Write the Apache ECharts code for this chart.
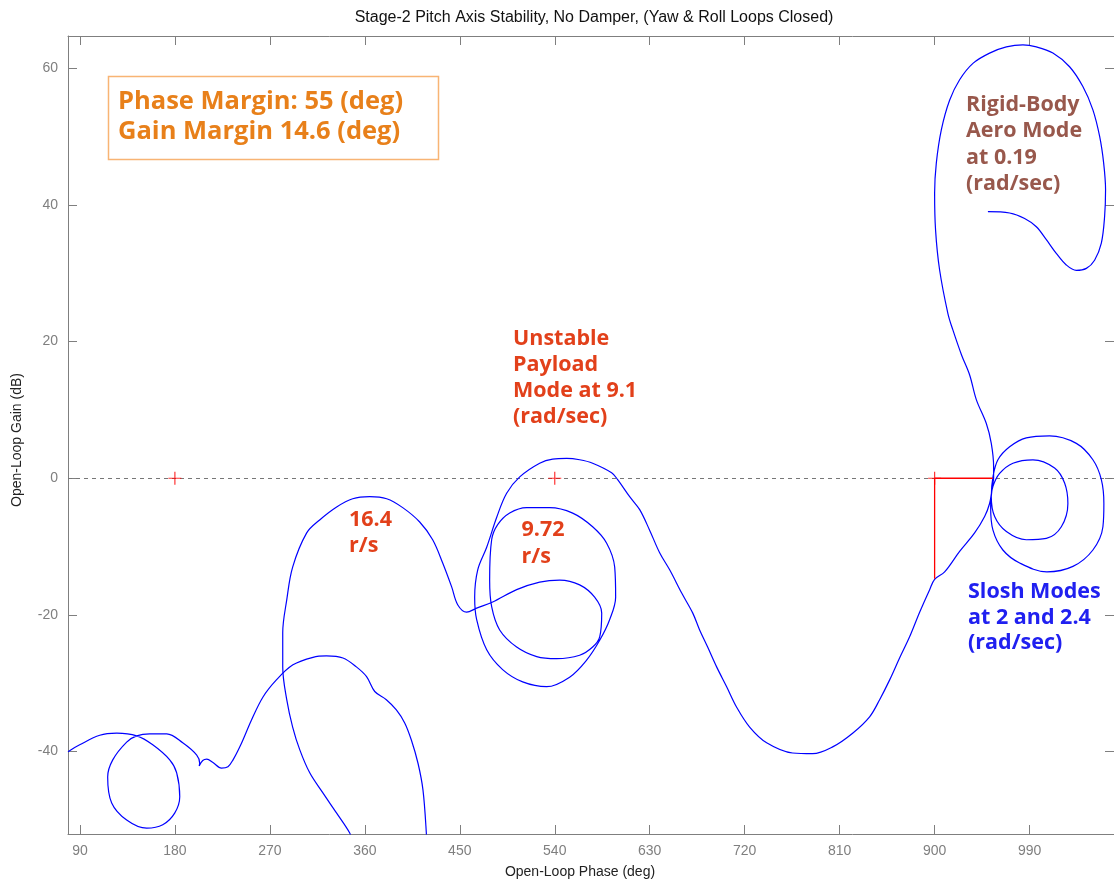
<!DOCTYPE html>
<html><head><meta charset="utf-8">
<script src="https://cdn.jsdelivr.net/npm/echarts@6/dist/echarts.min.js"></script>
<style>html,body{margin:0;padding:0;background:#fff}#c{width:1114px;height:884px}</style>
</head><body><div id="c"></div>
<script>
// ---------------- data (phase deg, gain dB) ----------------
const phaseTicks = [90,180,270,360,450,540,630,720,810,900,990];
const gainTicks = [-40,-20,0,20,40,60];

const rigidBodyLoop = [[950.5,39.0],[971.1,38.8],[985.3,38.0],[996.4,36.8],[1005.9,34.9],[1015.3,32.9],[1024.8,31.2],[1034.3,30.4],[1043.8,30.7],[1051.6,31.9],[1058,34.4],[1061.1,38.3],[1062,42.2],[1060.2,46.1],[1056.4,50.0],[1050,53.9],[1040.5,57.3],[1027.9,60.2],[1012.1,62.2],[996.4,63.1],[983.7,63.4],[968,63.1],[952.1,62.2],[936.3,60.7],[923.7,58.3],[914.2,55.3],[906.4,51.0],[901.6,46.1],[900,41.7],[900.9,36.3],[904.7,30.5],[912.6,24.1],[917.3,21.7],[925.6,18.0],[933.2,15.1],[939.5,11.5],[949,8.0],[953.7,5.1],[955.9,1.7],[955.9,0.0]];
const sloshLoops = [[954.7,-1.2],[953.1,-4.2],[955.3,-7.6],[964.7,-10.5],[980.6,-12.4],[1006.4,-13.7],[1031.1,-12.9],[1050,-10.5],[1059.5,-7.1],[1060.4,-3.7],[1058,-0.2],[1050,2.7],[1034.3,5.1],[1009,6.2],[986.9,5.9],[971.1,4.6],[960,2.7],[955.3,0.2],[953.7,-2.7],[956.9,-5.6],[968,-7.8],[986.9,-9.0],[1005.9,-8.8],[1020.1,-7.1],[1026.3,-3.7],[1023.2,-0.7],[1013.7,1.5],[993.2,2.7],[974.2,2.2],[961.6,0.7],[955.3,-1.2],[952.1,-3.7],[947.4,-5.6],[937.9,-8.0],[923.7,-10.7],[909.5,-13.7],[900,-14.8],[895.3,-16.3]];
const lowDip = [[885.8,-19.6],[876.3,-23.2],[866.8,-26.3],[857.4,-29.5],[847.9,-32.4],[838.4,-34.9],[822.3,-37.3],[803.4,-39.3],[784.4,-40.3],[765.4,-40.2],[740.8,-38.7],[724.7,-36.4],[712.4,-33.5],[702.9,-30.5],[693.4,-27.6],[684.9,-24.7],[677.3,-22.2],[670.7,-19.7],[660.3,-16.8],[648.9,-13.4],[639.4,-10.9],[629.9,-7.6],[620.5,-4.6],[611,-2.7],[599.6,-0.2],[593.9,0.8],[575.9,2.2],[563.6,2.7],[551.3,2.9],[538,2.8]];
const payloadLoops = [[525.7,2.2],[506.8,0.2],[494.4,-2.2],[485,-5.7],[475.5,-10.1],[467,-13.4],[464.1,-17.4],[466,-20.7],[475.5,-25.1],[490.6,-28.0],[509.6,-29.8],[532.3,-30.5],[554.1,-29.1],[570.2,-26.6],[582.6,-23.7],[592,-20.7],[597.7,-17.4],[596.8,-13.0],[589.2,-9.5],[575.9,-7.1],[557,-5.1],[535.2,-4.3],[513.4,-4.3],[497.3,-5.1],[485.9,-6.8],[480.2,-9.0],[478.3,-14.9],[480.2,-18.8],[487.8,-22.2],[503.9,-24.7],[522.9,-26.1],[541.8,-26.4],[563.6,-25.9],[575.9,-24.7],[582.6,-23.2],[584.5,-19.7],[577.8,-17.4],[563.6,-15.6],[544.7,-14.9],[525.7,-15.2],[503.9,-16.3],[481.2,-18.1],[466,-19.0],[456.5,-19.6]];
const hump164 = [[448,-18.5],[442.3,-15.9],[433.8,-12.4],[424.3,-9.0],[412,-6.4],[395.9,-4.3],[380.7,-3.0],[364.6,-2.7],[348.5,-3.0],[333.3,-4.2],[317.2,-6.1],[304.9,-8.0],[291.6,-13.0],[286,-17.8],[282.2,-22.6],[282.2,-27.6],[286,-32.4],[291.6,-36.4],[298.3,-39.7],[307.8,-43.1],[320.1,-46.0],[333.3,-49.0],[345.7,-51.9],[346.6,-52.6]];
const lowFreqTail = [[78.7,-40.0],[89.8,-39.0],[108.8,-37.6],[124.9,-37.3],[143.8,-37.7],[159,-39.0],[175.1,-41.2],[181.7,-43.1],[184.6,-46.6],[179.8,-49.0],[168.5,-50.7],[153.3,-51.2],[134.3,-50.0],[120.1,-47.5],[116.3,-43.7],[121.1,-41.2],[134.3,-38.6],[143.8,-37.7],[156.1,-37.4],[172.3,-37.4],[187.4,-38.7],[200.7,-40.5],[203.5,-41.7],[203,-42.1],[206.4,-41.3],[210.2,-41.1],[216.1,-41.6],[224.1,-42.4],[230.3,-42.2],[235.1,-41.2],[243,-38.8],[252.5,-35.4],[263.5,-32.0],[276.2,-29.5],[291.9,-27.3],[310.9,-26.2],[323.6,-26.0],[339.3,-26.3],[352,-27.6],[361.5,-29.0],[369.4,-31.2],[380.4,-32.4],[389.9,-33.9],[397.8,-35.8],[404.1,-38.3],[410.4,-41.7],[415.1,-45.6],[418.3,-51.9],[418.4,-52.6]];
const criticalPoints = [[180,0],[540,0],[900,0]];
const gainMarginLine = [[900,0],[900,-14.7]];
const phaseMarginLine = [[900,0],[955,0]];

const mainCurve = [].concat(rigidBodyLoop, sloshLoops, lowDip, payloadLoops, hump164);

// ---------------- chart ----------------
const chart = echarts.init(document.getElementById('c'), null, {renderer:'canvas'});
const AX = '#7f7f7f';
const FONT = '"Liberation Sans", Arial, sans-serif';
const ANN = '"Open Sans", "Noto Sans", sans-serif';

function textLines(lines, x, y0, lh, color, size) {
  return lines.map((t, i) => ({
    type: 'text', x: x, y: y0 + i * lh, z: 100,
    style: { text: t, fill: color, font: 'bold ' + size + 'px ' + ANN, textVerticalAlign: 'middle', verticalAlign: 'middle' }
  }));
}

const xAxisBase = {
  type: 'value', min: 78.7, max: 1070,
  axisLine: { show: true, onZero: false, lineStyle: { color: AX, width: 1 } },
  axisTick: { show: true, inside: true, length: 9, customValues: phaseTicks, lineStyle: { color: AX } },
  splitLine: { show: false }
};
const yAxisBase = {
  type: 'value', min: -52.05, max: 64.7,
  axisLine: { show: true, onZero: false, lineStyle: { color: AX, width: 1 } },
  axisTick: { show: true, inside: true, length: 9, customValues: gainTicks, lineStyle: { color: AX } },
  splitLine: { show: false }
};

chart.setOption({
  animation: false,
  backgroundColor: '#fff',
  grid: { left: 68, right: 0, top: 36, bottom: 50, containLabel: false, outerBoundsMode: 'none' },
  xAxis: [
    Object.assign({}, xAxisBase, {
      position: 'bottom',
      axisLabel: { show: true, customValues: phaseTicks, color: AX, fontFamily: FONT, fontSize: 14, margin: 10 }
    }),
    Object.assign({}, xAxisBase, { position: 'top', axisLabel: { show: false } })
  ],
  yAxis: [
    Object.assign({}, yAxisBase, {
      position: 'left',
      axisLabel: { show: true, customValues: gainTicks, color: AX, fontFamily: FONT, fontSize: 14, margin: 10 }
    }),
    Object.assign({}, yAxisBase, { position: 'right', axisLabel: { show: false } })
  ],
  series: [
    {
      type: 'line', data: mainCurve, showSymbol: false, symbol: 'none', smooth: 0.35,
      lineStyle: { color: '#0000ff', width: 1.2 }, clip: true, z: 5,
      markLine: {
        silent: true, symbol: ['none', 'none'], label: { show: false },
        lineStyle: { color: '#777', type: [4, 4], width: 1 },
        data: [{ yAxis: 0 }]
      }
    },
    {
      type: 'line', data: lowFreqTail, showSymbol: false, symbol: 'none', smooth: 0.35,
      lineStyle: { color: '#0000ff', width: 1.2 }, clip: true, z: 5
    },
    {
      type: 'line', data: gainMarginLine, showSymbol: false, symbol: 'none',
      lineStyle: { color: '#ff0000', width: 1.3 }, z: 6
    },
    {
      type: 'line', data: phaseMarginLine, showSymbol: false, symbol: 'none',
      lineStyle: { color: '#ff0000', width: 1.3 }, z: 6
    },
    {
      type: 'scatter', data: criticalPoints, symbol: 'path://M0,6L12,6M6,0L6,12', symbolSize: 13,
      itemStyle: { color: 'none', borderColor: '#ff0000', borderWidth: 1.2 }, z: 7
    }
  ],
  graphic: [
    { type: 'text', x: 594, y: 18, z: 100, style: { text: 'Stage-2 Pitch Axis Stability, No Damper, (Yaw & Roll Loops Closed)', fill: '#111', font: '16px ' + FONT, textAlign: 'center', textVerticalAlign: 'middle', verticalAlign: 'middle', align: 'center' } },
    { type: 'text', x: 580, y: 872, z: 100, style: { text: 'Open-Loop Phase (deg)', fill: '#222', font: '14px ' + FONT, textAlign: 'center', textVerticalAlign: 'middle', verticalAlign: 'middle', align: 'center' } },
    { type: 'text', x: 17, y: 440, rotation: Math.PI / 2, z: 100, style: { text: 'Open-Loop Gain (dB)', fill: '#222', font: '14px ' + FONT, textAlign: 'center', textVerticalAlign: 'middle', verticalAlign: 'middle', align: 'center' } },
    { type: 'rect', shape: { x: 108.5, y: 76.5, width: 330, height: 83 }, style: { fill: '#fff', stroke: '#F8B474', lineWidth: 1.5 }, z: 99 }
  ].concat(
    textLines(['Phase Margin: 55 (deg)', 'Gain Margin 14.6 (deg)'], 118, 102, 30, '#E8801A', 25.5),
    textLines(['Rigid-Body', 'Aero Mode', 'at 0.19', '(rad/sec)'], 966, 105, 26.2, '#98584C', 21.5),
    textLines(['Unstable', 'Payload', 'Mode at 9.1', '(rad/sec)'], 513, 338.5, 26.1, '#E2401A', 21.5),
    textLines(['16.4', 'r/s'], 349, 519.5, 26.7, '#E2401A', 21.5),
    textLines(['9.72', 'r/s'], 521.5, 530, 26.7, '#E2401A', 21.5),
    textLines(['Slosh Modes', 'at 2 and 2.4', '(rad/sec)'], 968, 591.7, 25.8, '#2020F0', 21.5)
  )
});
</script></body></html>
